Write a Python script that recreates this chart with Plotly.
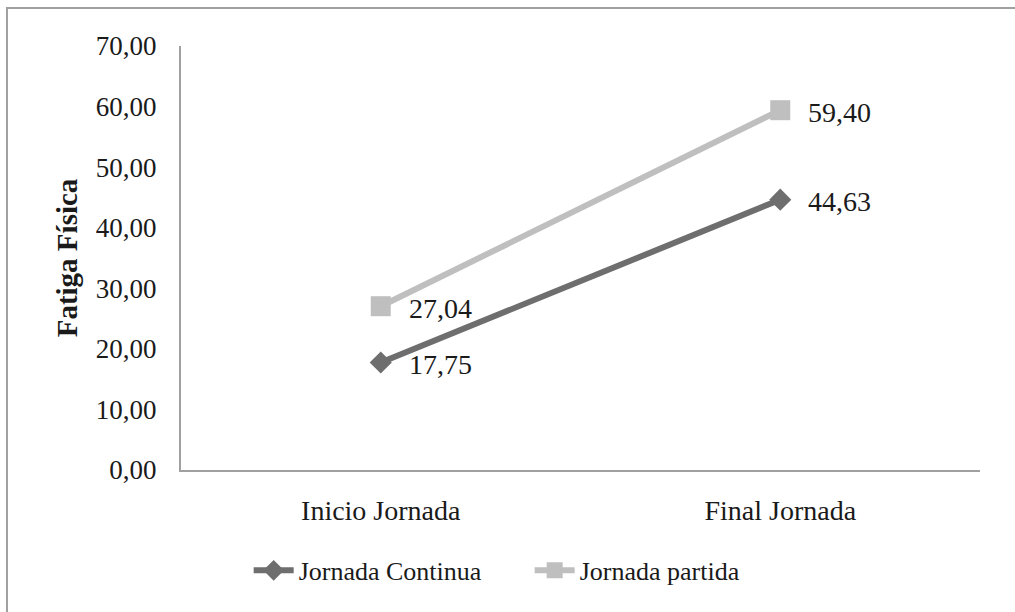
import plotly.graph_objects as go

# Fatiga física al inicio y al final de la jornada
categorias = ["Inicio Jornada", "Final Jornada"]
continua = [17.75, 44.63]
partida = [27.04, 59.40]
nombres = ["Jornada Continua", "Jornada partida"]
y_ticks = [0, 10, 20, 30, 40, 50, 60, 70]

FONT = "Liberation Serif, Times New Roman, serif"
TXT = "#1a1a1a"
OSCURO = "#6e6e6e"
CLARO = "#bfbfbf"


def fmt(v):
    return f"{v:.2f}".replace(".", ",")


fig = go.Figure()
fig.add_trace(go.Scatter(
    x=categorias, y=continua, name=nombres[0], mode="lines+markers",
    line=dict(color=OSCURO, width=6),
    marker=dict(symbol="diamond", size=17, color=OSCURO),
))
fig.add_trace(go.Scatter(
    x=categorias, y=partida, name=nombres[1], mode="lines+markers",
    line=dict(color=CLARO, width=6),
    marker=dict(symbol="square", size=20, color=CLARO),
))

# etiquetas de valor a la derecha de cada punto
for serie in (continua, partida):
    for cat, v in zip(categorias, serie):
        fig.add_annotation(
            x=cat, y=v, text=fmt(v), showarrow=False,
            xanchor="left", yanchor="middle", xshift=26, yshift=-2,
            font=dict(family=FONT, size=28, color=TXT),
        )

# marco del gráfico
fig.add_shape(
    type="rect", xref="paper", yref="paper",
    x0=-0.2178, x1=1.06, y0=-0.36, y1=1.0896,
    line=dict(color="#a0a0a0", width=2), fillcolor="rgba(0,0,0,0)", layer="below",
)

fig.update_layout(
    width=1015, height=612,
    margin=dict(l=181, r=35, t=46, b=142),
    paper_bgcolor="white", plot_bgcolor="white",
    separators=",.",
    font=dict(family=FONT, size=26, color=TXT),
    showlegend=True,
    legend=dict(
        orientation="h", xref="container", x=0.245, xanchor="left",
        yref="container", y=0.068, yanchor="middle",
        font=dict(family=FONT, size=26, color=TXT),
        itemwidth=40, tracegroupgap=0, entrywidth=226,
    ),
    xaxis=dict(
        type="category", range=[-0.5, 1.5],
        showline=True, linecolor="#a0a0a0", linewidth=2,
        showgrid=False, zeroline=False, ticks="",
        ticklabelstandoff=14,
        tickfont=dict(family=FONT, size=28, color=TXT),
    ),
    yaxis=dict(
        range=[0, 70], tickvals=y_ticks, tickformat=".2f",
        showline=True, linecolor="#a0a0a0", linewidth=2,
        showgrid=False, zeroline=False, ticks="",
        ticklabelstandoff=17,
        tickfont=dict(family=FONT, size=27, color=TXT),
        title=dict(text="<b>Fatiga Física</b>", standoff=10,
                   font=dict(family=FONT, size=29, color=TXT)),
    ),
)

fig.write_html("out.html")
